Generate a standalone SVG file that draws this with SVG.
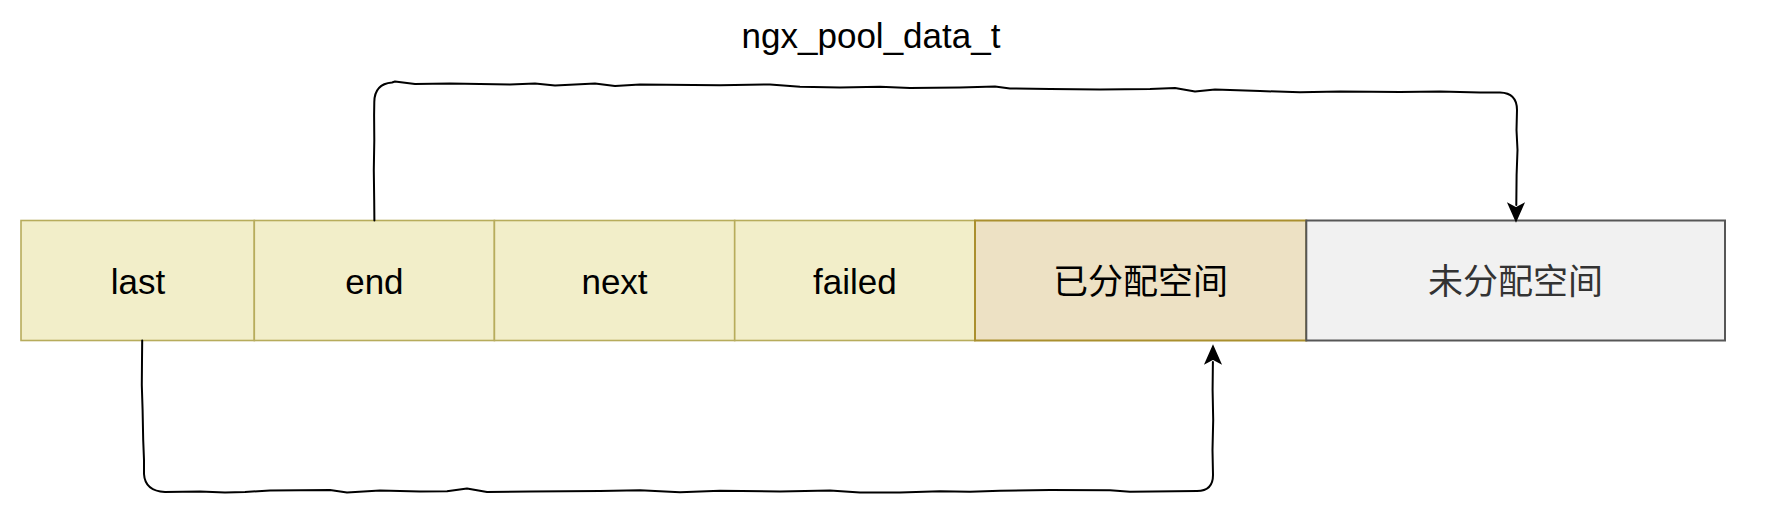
<svg xmlns="http://www.w3.org/2000/svg" width="1772" height="514" viewBox="0 0 1772 514">
<style>
.lbl{font-family:"Liberation Sans",Arial,"Noto Sans CJK SC",sans-serif;font-size:35px;text-anchor:middle;fill:#000}
.cjk{font-family:"Noto Sans CJK SC","Liberation Sans",sans-serif;font-size:35px;text-anchor:middle}
.yel{fill:#f2eec9;stroke:#b7ac5c;stroke-width:1.6}
.tan{fill:#ede1c4;stroke:#aa8f2e;stroke-width:2}
.gry{fill:#f1f1f1;stroke:#575757;stroke-width:2}
.edge{fill:none;stroke:#000;stroke-width:2;stroke-linejoin:round;stroke-linecap:round}
.head{fill:#000;stroke:#000;stroke-width:1.5;stroke-linejoin:miter}
</style>
<rect width="1772" height="514" fill="#fff"/>
<g id="title"><text class="lbl" x="871" y="47.5">ngx_pool_data_t</text></g>
<g id="node-last"><rect class="yel" x="21" y="220.5" width="233.3" height="120"/><text class="lbl" x="138" y="294">last</text></g>
<g id="node-end"><rect class="yel" x="254.3" y="220.5" width="240.1" height="120"/><text class="lbl" x="374.4" y="294">end</text></g>
<g id="node-next"><rect class="yel" x="494.4" y="220.5" width="240.3" height="120"/><text class="lbl" x="614.5" y="294">next</text></g>
<g id="node-failed"><rect class="yel" x="734.7" y="220.5" width="240.3" height="120"/><text class="lbl" x="854.8" y="294">failed</text></g>
<g id="node-allocated"><rect class="tan" x="975" y="220.5" width="331.3" height="120"/><text class="cjk" x="1140.6" y="294" fill="#000">已分配空间</text></g>
<g id="node-free"><rect class="gry" x="1306.3" y="220.5" width="418.7" height="120"/><text class="cjk" x="1515.6" y="294" fill="#333">未分配空间</text></g>
<g id="connectors">
<path class="edge" d="M374.4,220.5 L374.2,200 L373.8,170 L374.3,140 L374.1,115 L374.3,102 Q374.5,84 392,82.5 L395,81.5 L415,84 L450,83.5 L510,84.5 L535,83.5 L555,85.5 L595,83.5 L615,86 L640,84.5 L720,85.2 L770,84.5 L800,86.7 L840,87.5 L880,86.7 L910,88 L960,87.5 L995,86.5 L1010,88.5 L1050,89 L1100,89.5 L1150,89 L1175,88 L1195,91.5 L1215,89.5 L1260,91 L1300,92.3 L1340,91.5 L1372,91.8 L1400,92 L1440,91.5 L1480,92.5 L1500,92.5 Q1517,93 1517,110 L1516.5,130 L1517.5,150 L1516.6,175 L1516.3,205"/>
<path class="head" d="M1516,221 L1508.5,204 L1516,208 L1523.5,204 Z"/>
<path class="edge" d="M142.2,340.5 L142,360 L141.8,385 L142.6,410 L143.2,440 L144,460 L144,474 Q145,491 165,492 L200,491.5 L225,492.5 L245,492 L270,490.5 L330,490 L347,492.5 L380,490.5 L420,491.5 L447,491.3 L467,488.5 L487,492 L530,491.5 L600,491 L640,490.3 L680,492.3 L720,490.7 L780,491.5 L830,490.5 L860,492.5 L900,492.5 L940,491.2 L970,491.8 L1000,490.7 L1050,490 L1110,490.3 L1130,491.7 L1197,491 Q1213,491 1213,475 L1212.5,450 L1213.2,420 L1212.6,390 L1212.9,362"/>
<path class="head" d="M1213,346 L1205.5,363 L1213,359 L1220.5,363 Z"/>
</g>
</svg>
